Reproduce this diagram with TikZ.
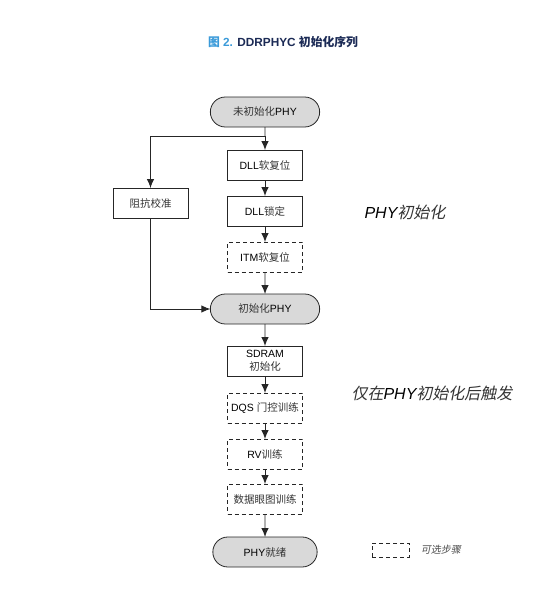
\documentclass[tikz,border=0pt]{standalone}
\usepackage{fontspec}
\setmainfont{Liberation Sans}
\newfontfamily\cjk{Noto Sans CJK SC}
\newfontfamily\cjkit[FakeSlant=0.2]{Noto Sans CJK SC}
\usetikzlibrary{arrows.meta,positioning,shapes.misc}
\definecolor{titleblue}{HTML}{3A9AD9}
\definecolor{navy}{HTML}{1B2A55}
\newcommand{\zh}[1]{{\cjk\color{black!80}#1}}

\tikzset{
  term/.style={rounded rectangle, draw=black!85, fill=black!15, line width=0.8pt,
    outer sep=0pt, minimum width=116pt, minimum height=30pt,
    font=\fontsize{10.5}{12}\selectfont},
  stepbox/.style={rectangle, draw=black!85, line width=0.8pt, outer sep=0pt,
    minimum width=75pt, minimum height=30pt, inner sep=1pt, align=center,
    font=\fontsize{10.5}{13.5}\selectfont},
  optbox/.style={stepbox, dash pattern=on 4pt off 3pt},
  note/.style={font=\fontsize{16}{18}\selectfont\itshape}
}

\begin{document}
\begin{tikzpicture}[x=1pt,y=1pt,>={Latex[length=9pt,width=7.5pt]},
  line width=0.9pt,draw=black!85,node distance=16pt]
\useasboundingbox (0,0) rectangle (546,-589);

\node[font=\fontsize{11.8}{14}\selectfont\bfseries] (title) at (283,-42)
  {\textcolor{titleblue}{{\cjk 图} 2.} \textcolor{navy}{DDRPHYC {\cjk 初始化序列}}};

% main flow
\node[term]                     (uninit)  at (265,-112) {\zh{未初始化}PHY};
\coordinate[below=9pt of uninit] (split);
\node[stepbox, below=23pt of uninit] (dllrst)  {DLL\zh{软复位}};
\node[stepbox, below=of dllrst]      (dlllock) {DLL\zh{锁定}};
\node[optbox,  below=of dlllock]     (itmrst)  {ITM\zh{软复位}};
\node[stepbox]                  (zqcal)   at (150.5,-203) {\zh{阻抗校准}};
\node[term,    below=22pt of itmrst] (init)    {\zh{初始化}PHY};
\node[stepbox, below=22pt of init]   (sdram)   {SDRAM\\\zh{初始化}};
\node[optbox,  below=17pt of sdram]  (dqs)     {DQS \zh{门控训练}};
\node[optbox,  below=of dqs]         (rv)      {RV\zh{训练}};
\node[optbox,  below=15pt of rv]     (eye)     {\zh{数据眼图训练}};
\node[term, minimum width=111pt, below=23pt of eye] (ready) {PHY\zh{就绪}};

\draw (uninit) -- (split);
\draw[->] (split) -- (dllrst);
\draw[->] (split) -| (zqcal);
\draw[->] (dllrst) -- (dlllock);
\draw[->] (dlllock) -- (itmrst);
\draw[->] (itmrst) -- (init);
\draw[->] (zqcal) |- (init);
\draw[->] (init) -- (sdram);
\draw[->] (sdram) -- (dqs);
\draw[->] (dqs) -- (rv);
\draw[->] (rv) -- (eye);
\draw[->] (eye) -- (ready);

% side notes
\node[note] (phyinit) at (405,-212) {PHY{\cjkit\color{black!80}初始化}};
\node[note] (after)   at (432,-393) {{\cjkit\color{black!80}仅在}PHY{\cjkit\color{black!80}初始化后触发}};

% legend
\node[optbox, minimum width=37pt, minimum height=14pt] (legbox) at (390.5,-550) {};
\node[right=8pt of legbox, font=\fontsize{10}{12}\selectfont\cjkit, text=black!70] (legtext) {可选步骤};
\end{tikzpicture}
\end{document}
